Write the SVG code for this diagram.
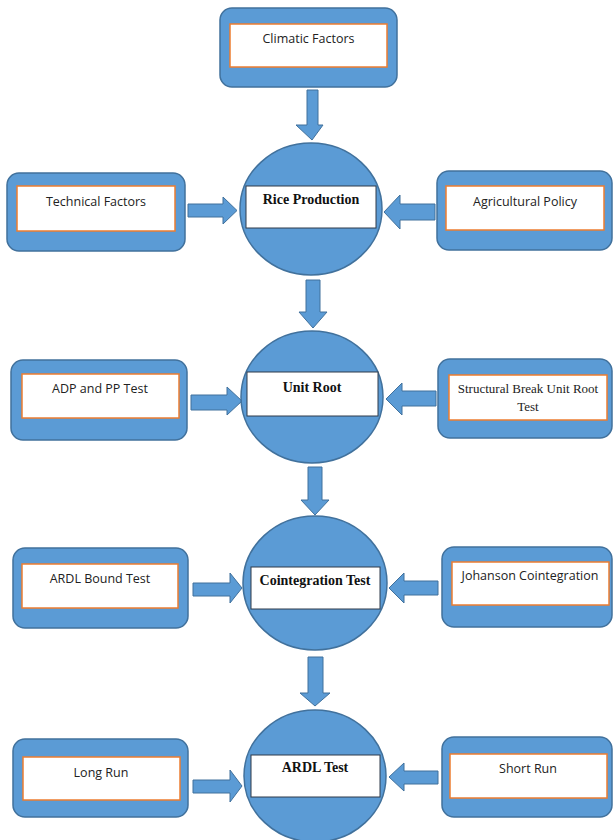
<svg xmlns="http://www.w3.org/2000/svg" width="613" height="840" viewBox="0 0 613 840">
<style>
.outer{fill:#5B9BD5;stroke:#41719C;stroke-width:1.5}
.inner{fill:#fff;stroke:#ED7D31;stroke-width:1.5}
.circ{fill:#5B9BD5;stroke:#41719C;stroke-width:1.5}
.cin{fill:#fff;stroke:#2F3B4A;stroke-width:1}
.arr{fill:#5B9BD5;stroke:#41719C;stroke-width:1}
.t{font-family:"Open Sans","Liberation Sans",sans-serif;font-size:12.5px;fill:#222;text-anchor:middle}
.ts{font-family:"Liberation Serif",serif;font-size:13px;fill:#222;text-anchor:middle}
.tb{font-family:"Liberation Serif",serif;font-size:14px;font-weight:bold;fill:#111;text-anchor:middle}
</style>
<rect width="613" height="840" fill="#fff"/>
<g id="connectors">
<polygon class="arr" points="307,90 318,90 318,125 323,125 312,140 296,125 307,125" transform="translate(0,0)"/>
<polygon class="arr" points="306,280 320,280 320,312 327,312 313,328 299,312 306,312"/>
<polygon class="arr" points="308,467 322,467 322,500 329,500 315,515 301,500 308,500"/>
<polygon class="arr" points="308,657 323,657 323,693 330,693 315,706 300,693 308,693"/>
<polygon class="arr" points="188,204 223,204 223,197 237,210.5 223,224 223,217 188,217"/>
<polygon class="arr" points="435,204 400,204 400,195 384,212 400,229 400,220 435,220"/>
<polygon class="arr" points="191,395 227,395 227,387 242,401 227,415 227,410 191,410"/>
<polygon class="arr" points="436,391 402,391 402,383 386,399 402,415 402,406 436,406"/>
<polygon class="arr" points="193,583 230,583 230,573 242,588 230,603 230,596 193,596"/>
<polygon class="arr" points="438,581 404,581 404,573 389,588 404,603 404,595 438,595"/>
<polygon class="arr" points="193,780 230,780 230,770 242,786 230,802 230,793 193,793"/>
<polygon class="arr" points="438,771 404,771 404,763 389,777 404,791 404,784 438,784"/>
</g>
<g id="climatic">
<rect class="outer" x="220" y="8" width="177" height="79" rx="12"/>
<rect class="inner" x="230" y="24" width="157" height="43"/>
<text class="t" x="308.5" y="43">Climatic Factors</text>
</g>
<g id="technical">
<rect class="outer" x="7" y="173" width="178" height="78" rx="12"/>
<rect class="inner" x="17" y="186" width="158" height="45"/>
<text class="t" x="96" y="206">Technical Factors</text>
</g>
<g id="agricultural">
<rect class="outer" x="437" y="171" width="175" height="79" rx="12"/>
<rect class="inner" x="446" y="186" width="158" height="44"/>
<text class="t" x="525" y="206">Agricultural Policy</text>
</g>
<g id="rice">
<ellipse class="circ" cx="311" cy="209" rx="71" ry="66"/>
<rect class="cin" x="246" y="186" width="130" height="42"/>
<text class="tb" x="311" y="204">Rice Production</text>
</g>
<g id="adp">
<rect class="outer" x="11" y="360" width="176" height="80" rx="12"/>
<rect class="inner" x="22" y="374" width="157" height="44"/>
<text class="t" x="100" y="393">ADP and PP Test</text>
</g>
<g id="structural">
<rect class="outer" x="438" y="359" width="174" height="79" rx="12"/>
<rect class="inner" x="449" y="375" width="158" height="45"/>
<text class="ts" x="528" y="393">Structural Break Unit Root</text>
<text class="ts" x="528" y="411">Test</text>
</g>
<g id="unitroot">
<ellipse class="circ" cx="312" cy="397" rx="71" ry="66"/>
<rect class="cin" x="247" y="372" width="131" height="44"/>
<text class="tb" x="312" y="392">Unit Root</text>
</g>
<g id="ardlbound">
<rect class="outer" x="13" y="548" width="175" height="80" rx="12"/>
<rect class="inner" x="22" y="564" width="156" height="44"/>
<text class="t" x="100" y="583">ARDL Bound Test</text>
</g>
<g id="johanson">
<rect class="outer" x="442" y="547" width="170" height="80" rx="12"/>
<rect class="inner" x="452" y="562" width="157" height="43"/>
<text class="t" x="530" y="580">Johanson Cointegration</text>
</g>
<g id="cointegration">
<ellipse class="circ" cx="315" cy="583" rx="72" ry="67"/>
<rect class="cin" x="251" y="567" width="129" height="42"/>
<text class="tb" x="315" y="585">Cointegration Test</text>
</g>
<g id="longrun">
<rect class="outer" x="13" y="739" width="175" height="78" rx="12"/>
<rect class="inner" x="23" y="757" width="157" height="43"/>
<text class="t" x="101" y="777">Long Run</text>
</g>
<g id="shortrun">
<rect class="outer" x="442" y="737" width="170" height="80" rx="12"/>
<rect class="inner" x="450" y="754" width="157" height="44"/>
<text class="t" x="528" y="773">Short Run</text>
</g>
<g id="ardltest">
<ellipse class="circ" cx="315" cy="776" rx="71" ry="66"/>
<rect class="cin" x="251" y="755" width="129" height="42"/>
<text class="tb" x="315" y="772">ARDL Test</text>
</g>
</svg>
